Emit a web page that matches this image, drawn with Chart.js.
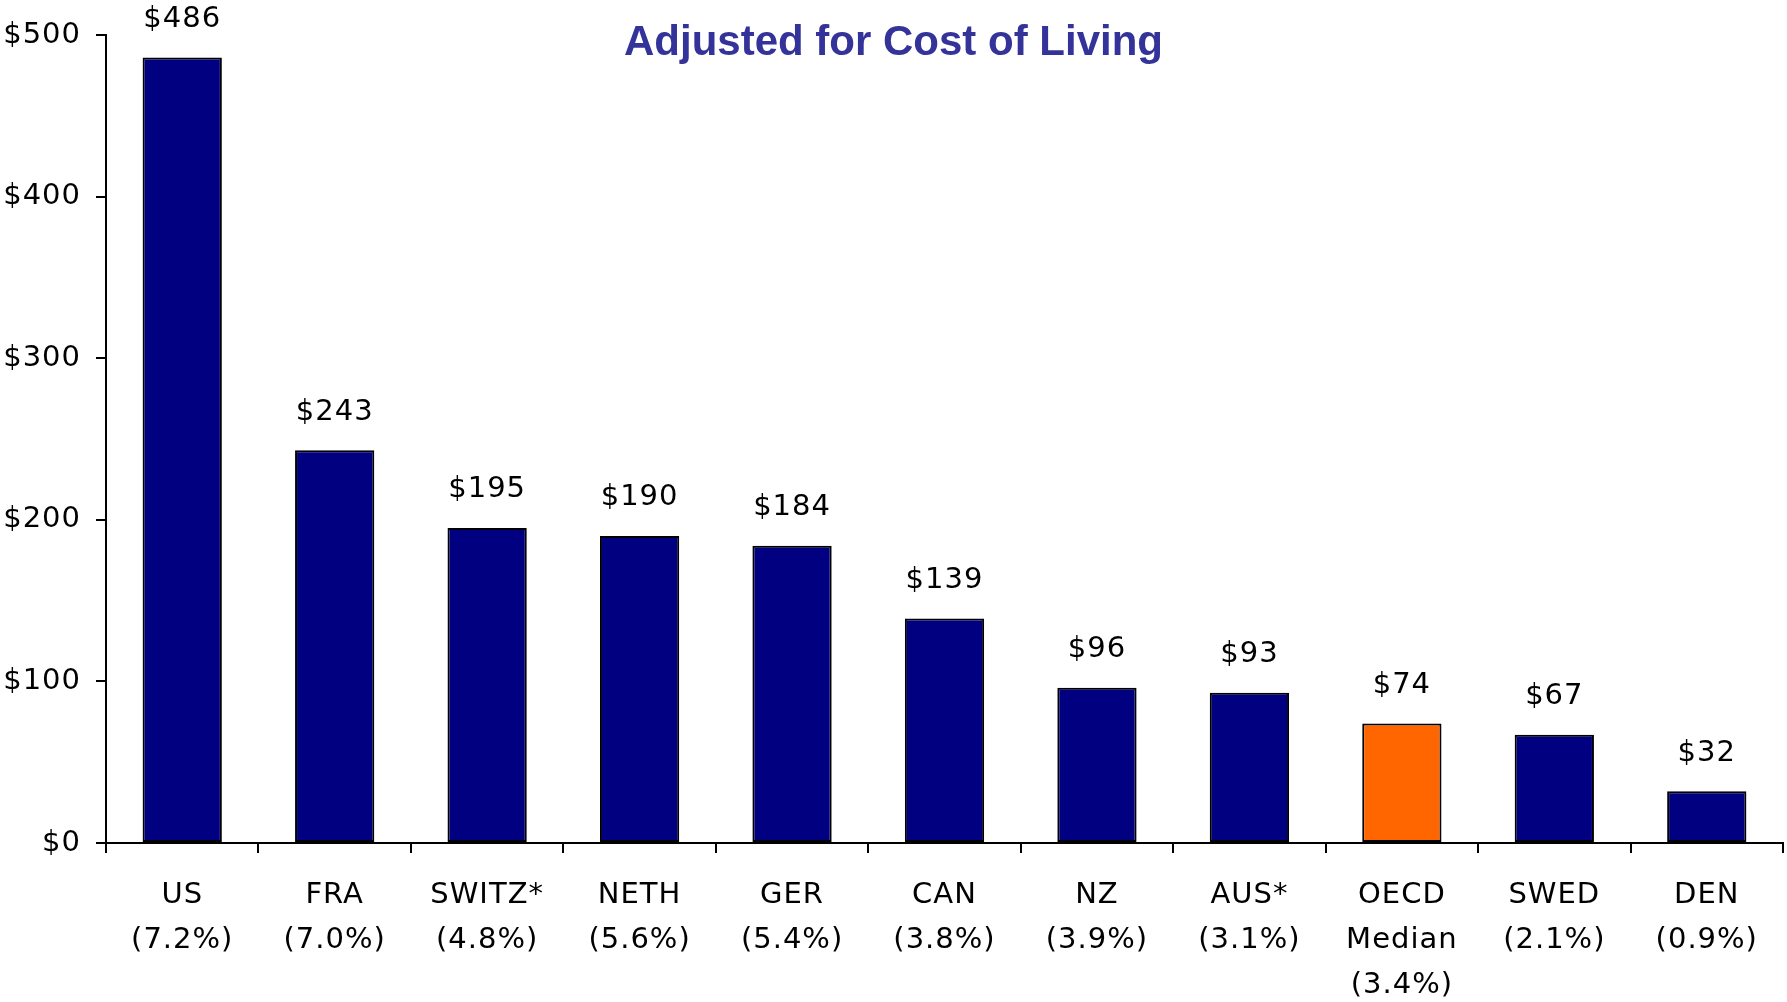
<!DOCTYPE html>
<html>
<head>
<meta charset="utf-8">
<script src="https://cdn.jsdelivr.net/npm/chart.js@4.4.0/dist/chart.umd.min.js"></script>
<style>
  html, body { margin: 0; padding: 0; background: #fff; }
  #wrap { width: 1787px; height: 1002px; position: relative; }
</style>
</head>
<body>
<div id="wrap"><canvas id="costChart"></canvas></div>
<script>
// chart data
var countryNames = ['US', 'FRA', 'SWITZ*', 'NETH', 'GER', 'CAN', 'NZ', 'AUS*', 'OECD', 'SWED', 'DEN'];
var shareLabels = ['(7.2%)', '(7.0%)', '(4.8%)', '(5.6%)', '(5.4%)', '(3.8%)', '(3.9%)', '(3.1%)', '(3.4%)', '(2.1%)', '(0.9%)'];
var costs = [486, 243, 195, 190, 184, 139, 96, 93, 74, 67, 32];
var barColors = ['#000080', '#000080', '#000080', '#000080', '#000080', '#000080', '#000080', '#000080', '#FF6600', '#000080', '#000080'];
var yTickValues = [0, 100, 200, 300, 400, 500];
var chartTitle = 'Adjusted for Cost of Living';

var labels = [];
for (var i = 0; i < countryNames.length; i++) {
  if (countryNames[i] === 'OECD') {
    labels.push([countryNames[i], 'Median', shareLabels[i]]);
  } else {
    labels.push([countryNames[i], shareLabels[i]]);
  }
}

var textFont = 'DejaVu Sans';
var textSize = 29;

// wider tracking, like the original
var spacingPlugin = {
  id: 'spacing',
  beforeLayout: function(chart) { chart.ctx.letterSpacing = '1px'; },
  beforeDraw: function(chart) { chart.ctx.letterSpacing = '1px'; }
};

var valueLabelPlugin = {
  id: 'valueLabels',
  afterDatasetsDraw: function(chart) {
    var ctx = chart.ctx;
    var meta = chart.getDatasetMeta(0);
    ctx.save();
    ctx.letterSpacing = '1px';
    ctx.font = textSize + 'px "' + textFont + '"';
    ctx.fillStyle = '#000';
    ctx.textAlign = 'center';
    ctx.textBaseline = 'middle';
    for (var i = 0; i < meta.data.length; i++) {
      var bar = meta.data[i];
      ctx.fillText('$' + costs[i], bar.x, bar.y - 38);
    }
    ctx.restore();
  }
};

var titlePlugin = {
  id: 'overlayTitle',
  afterDraw: function(chart) {
    var ctx = chart.ctx;
    ctx.save();
    ctx.letterSpacing = '0px';
    ctx.font = 'bold 42px "Liberation Sans"';
    ctx.fillStyle = '#333399';
    ctx.textAlign = 'center';
    ctx.textBaseline = 'middle';
    ctx.fillText(chartTitle, chart.width / 2, 43);
    ctx.restore();
  }
};

var ctx = document.getElementById('costChart').getContext('2d');
new Chart(ctx, {
  type: 'bar',
  data: {
    labels: labels,
    datasets: [{
      data: costs,
      backgroundColor: barColors,
      borderColor: '#000',
      borderWidth: 2,
      borderSkipped: false,
      barPercentage: 0.52,
      categoryPercentage: 1
    }]
  },
  options: {
    responsive: true,
    maintainAspectRatio: false,
    animation: false,
    layout: { padding: { top: 35, right: 4, left: 0, bottom: 0 } },
    plugins: {
      legend: { display: false },
      tooltip: { enabled: false },
      title: { display: false }
    },
    scales: {
      x: {
        grid: {
          display: true,
          drawOnChartArea: false,
          drawTicks: true,
          tickLength: 10,
          color: '#000',
          lineWidth: 2,
          offset: true
        },
        border: { display: true, color: '#000', width: 2 },
        ticks: {
          color: '#000',
          font: { family: textFont, size: textSize, lineHeight: 1.55 },
          padding: 20,
          maxRotation: 0,
          autoSkip: false
        },
        afterFit: function(scale) { scale.height = 159; }
      },
      y: {
        min: 0,
        max: 500,
        afterBuildTicks: function(scale) {
          scale.ticks = yTickValues.map(function(v) { return { value: v }; });
        },
        grid: {
          display: true,
          drawOnChartArea: false,
          drawTicks: true,
          tickLength: 10,
          color: '#000',
          lineWidth: 2
        },
        border: { display: true, color: '#000', width: 2 },
        ticks: {
          color: '#000',
          font: { family: textFont, size: textSize },
          padding: 15,
          callback: function(value) { return '$' + value; }
        },
        afterFit: function(scale) { scale.width = 106; }
      }
    }
  },
  plugins: [spacingPlugin, valueLabelPlugin, titlePlugin]
});
</script>
</body>
</html>
